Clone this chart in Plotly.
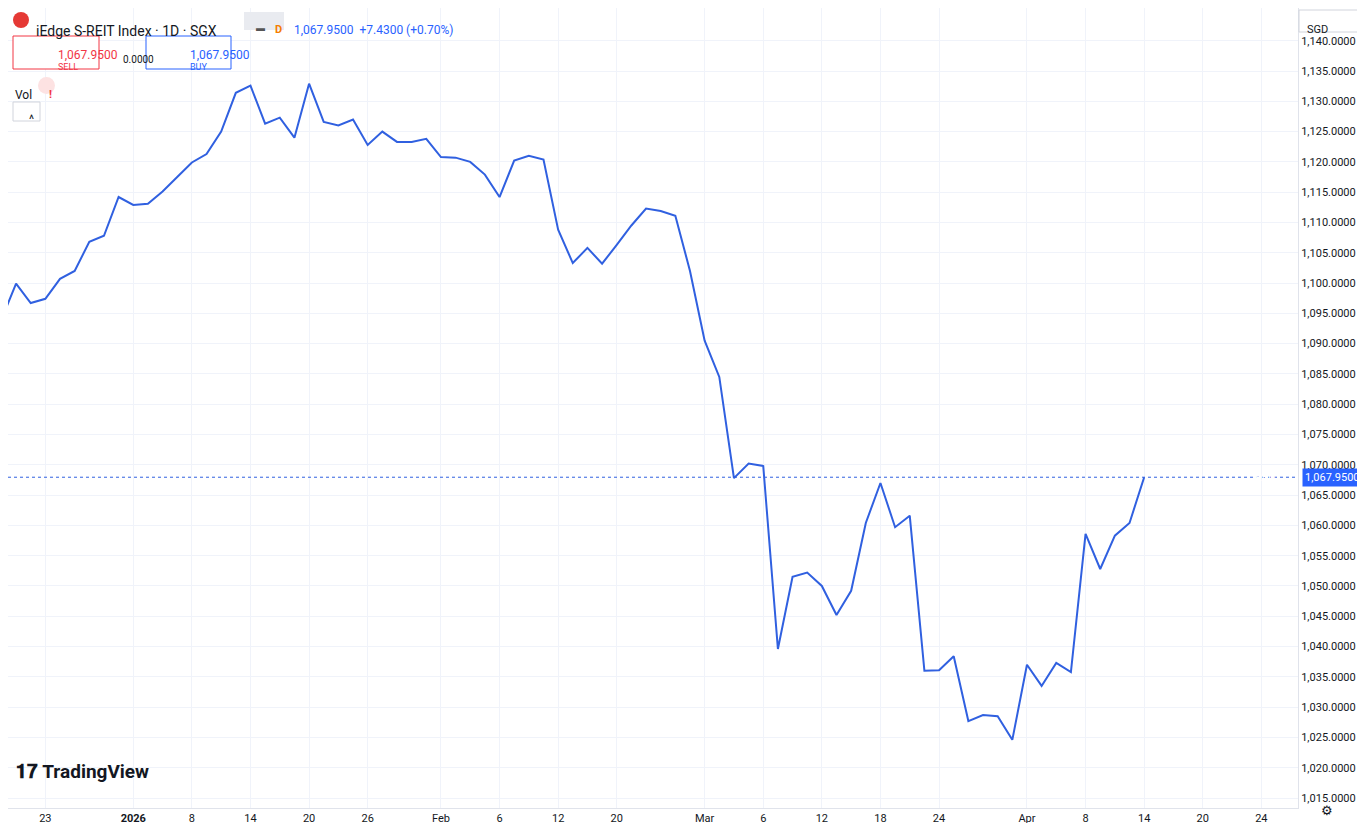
import plotly.graph_objects as go

# closing values, one per trading session (first value is the session just off the left edge)
closes = [1094.0,
          1099.9, 1096.7, 1097.4, 1100.7, 1102.0, 1106.8, 1107.8, 1114.2, 1112.9, 1113.1,
          1115.1, 1117.5, 1119.9, 1121.3, 1125.0, 1131.4, 1132.6, 1126.3, 1127.3, 1124.0,
          1132.9, 1126.6, 1126.0, 1127.0, 1122.8, 1125.0, 1123.3, 1123.3, 1123.8, 1120.8,
          1120.7, 1120.0, 1117.9, 1114.2, 1120.2, 1121.0, 1120.4, 1108.8, 1103.3, 1105.8,
          1103.2, 1106.3, 1109.5, 1112.3, 1111.9, 1111.1, 1102.0, 1090.5, 1084.5, 1067.8,
          1070.2, 1069.8, 1039.6, 1051.5, 1052.2, 1050.0, 1045.2, 1049.2, 1060.4, 1067.0,
          1059.7, 1061.6, 1036.0, 1036.1, 1038.4, 1027.7, 1028.7, 1028.5, 1024.6, 1037.0,
          1033.5, 1037.3, 1035.8, 1058.6, 1052.8, 1058.3, 1060.4, 1067.95]
bar_idx = list(range(-1, len(closes) - 1))

tick_labels = ["23", "2026", "8", "14", "20", "26", "Feb", "6", "12", "20",
               "Mar", "6", "12", "18", "24", "Apr", "8", "14", "20", "24"]
tick_idx = [2, 8, 12, 16, 20, 24, 29, 33, 37, 41, 47, 51, 55, 59, 63, 69, 73, 77, 81, 85]
bold_ticks = {"2026"}

y_ticks = list(range(1015, 1141, 5))
last = closes[-1]

BLUE = "#2962ff"
LINE = "#3060e0"
GRID = "#f0f3fa"
TXT = "#131722"

fig = go.Figure()
fig.add_trace(go.Scatter(x=bar_idx, y=closes, mode="lines",
                         line=dict(color=LINE, width=2), hoverinfo="y", showlegend=False))

W, H = 1365, 823
PW, PH = 1290, 800


def px(x):
    return x / PW


def py(y):
    return 1 - y / PH


fig.update_layout(
    width=W, height=H,
    margin=dict(l=0, r=W - PW, t=0, b=H - PH),
    paper_bgcolor="white", plot_bgcolor="white",
    font=dict(family="Roboto, Liberation Sans, sans-serif", size=11, color=TXT),
    xaxis=dict(range=[-0.55, 87.5], tickvals=tick_idx,
               ticktext=[f"<b>{t}</b>" if t in bold_ticks else t for t in tick_labels],
               showgrid=True, gridcolor=GRID, zeroline=False, showline=True,
               linecolor="#e0e3eb", ticks="", tickfont=dict(size=11, color=TXT)),
    yaxis=dict(range=[1013.35, 1145.4], side="right", tickvals=y_ticks,
               ticktext=[f"{v:,.4f}" for v in y_ticks], showgrid=True, gridcolor=GRID,
               zeroline=False, showline=True, linecolor="#e0e3eb", ticks="",
               tickfont=dict(size=11, color=TXT)),
)

# last price dotted line
fig.add_hline(y=last, line=dict(color=LINE, width=1, dash="dot"))

ann = []
shapes = []
# price labels on the axis
shapes.append(dict(type="rect", xref="paper", yref="y", x0=px(1256), x1=px(1288),
                   y0=last - 1.2, y1=last + 1.2, fillcolor=BLUE, line=dict(width=0)))
ann.append(dict(xref="paper", yref="y", x=px(1272), y=last, text="REIT", showarrow=False,
                font=dict(color="white", size=11)))
ann.append(dict(xref="paper", yref="y", x=1.003, y=last, xanchor="left",
                text=f"{last:,.4f}", showarrow=False, bgcolor=BLUE,
                font=dict(color="white", size=11), borderpad=2))

# header
shapes.append(dict(type="circle", xref="paper", yref="paper", x0=px(5), x1=px(21),
                   y0=py(20), y1=py(4), fillcolor="#e53935", line=dict(width=0)))
ann.append(dict(xref="paper", yref="paper", x=px(26), y=py(13), xanchor="left",
                text="iEdge S-REIT Index · 1D · SGX", showarrow=False,
                font=dict(size=14, color=TXT)))
shapes.append(dict(type="rect", xref="paper", yref="paper", x0=px(236), x1=px(276),
                   y0=py(22), y1=py(4), fillcolor="#e9ebf0", line=dict(width=0)))
ann.append(dict(xref="paper", yref="paper", x=px(246), y=py(13), text="<b>▬</b>",
                showarrow=False, font=dict(size=9, color="#555")))
ann.append(dict(xref="paper", yref="paper", x=px(265), y=py(13), text="<b>D</b>",
                showarrow=False, font=dict(size=11, color="#f57c00")))
ann.append(dict(xref="paper", yref="paper", x=px(284), y=py(13), xanchor="left",
                text="1,067.9500  +7.4300 (+0.70%)", showarrow=False,
                font=dict(size=12, color=BLUE)))

# sell / buy
shapes.append(dict(type="rect", xref="paper", yref="paper", x0=px(5), x1=px(91),
                   y0=py(61), y1=py(28), line=dict(color="#f23645", width=1),
                   fillcolor="white"))
ann.append(dict(xref="paper", yref="paper", x=px(48), y=py(38), text="1,067.9500",
                showarrow=False, font=dict(size=12, color="#f23645")))
ann.append(dict(xref="paper", yref="paper", x=px(48), y=py(52), text="SELL",
                showarrow=False, font=dict(size=9, color="#f23645")))
ann.append(dict(xref="paper", yref="paper", x=px(113), y=py(44), text="0.0000",
                showarrow=False, font=dict(size=10, color=TXT)))
shapes.append(dict(type="rect", xref="paper", yref="paper", x0=px(138), x1=px(223),
                   y0=py(61), y1=py(28), line=dict(color=BLUE, width=1), fillcolor="white"))
ann.append(dict(xref="paper", yref="paper", x=px(180), y=py(38), text="1,067.9500",
                showarrow=False, font=dict(size=12, color=BLUE)))
ann.append(dict(xref="paper", yref="paper", x=px(180), y=py(52), text="BUY",
                showarrow=False, font=dict(size=9, color=BLUE)))

# vol row
ann.append(dict(xref="paper", yref="paper", x=px(5), y=py(78), xanchor="left", text="Vol",
                showarrow=False, font=dict(size=12, color=TXT)))
shapes.append(dict(type="circle", xref="paper", yref="paper", x0=px(30), x1=px(47),
                   y0=py(86), y1=py(69), fillcolor="#fde2e2", line=dict(width=0)))
ann.append(dict(xref="paper", yref="paper", x=px(38.5), y=py(77.5), text="<b>!</b>",
                showarrow=False, font=dict(size=11, color="#f23645")))
shapes.append(dict(type="rect", xref="paper", yref="paper", x0=px(5), x1=px(32),
                   y0=py(113), y1=py(94), line=dict(color="#d1d4dc", width=1),
                   fillcolor="white"))
ann.append(dict(xref="paper", yref="paper", x=px(18.5), y=py(103), text="^",
                showarrow=False, font=dict(size=12, color=TXT)))

# SGD box
ann.append(dict(xref="paper", yref="paper", x=px(1297), y=py(13), xanchor="left",
                text="SGD", showarrow=False, font=dict(size=11, color=TXT)))
shapes.append(dict(type="rect", xref="paper", yref="paper", x0=px(1291), x1=px(1358),
                   y0=py(24), y1=py(2), line=dict(color="#d1d4dc", width=1)))

# logo
ann.append(dict(xref="paper", yref="paper", x=px(6), y=py(777), xanchor="left",
                text="<b>𝟏𝟕 TradingView</b>", showarrow=False,
                font=dict(size=19, color=TXT)))
ann.append(dict(xref="paper", yref="paper", x=px(1327), y=py(812), text="⚙",
                showarrow=False, font=dict(size=13, color=TXT)))

fig.update_layout(annotations=ann, shapes=shapes)
fig.write_html("out.html")
